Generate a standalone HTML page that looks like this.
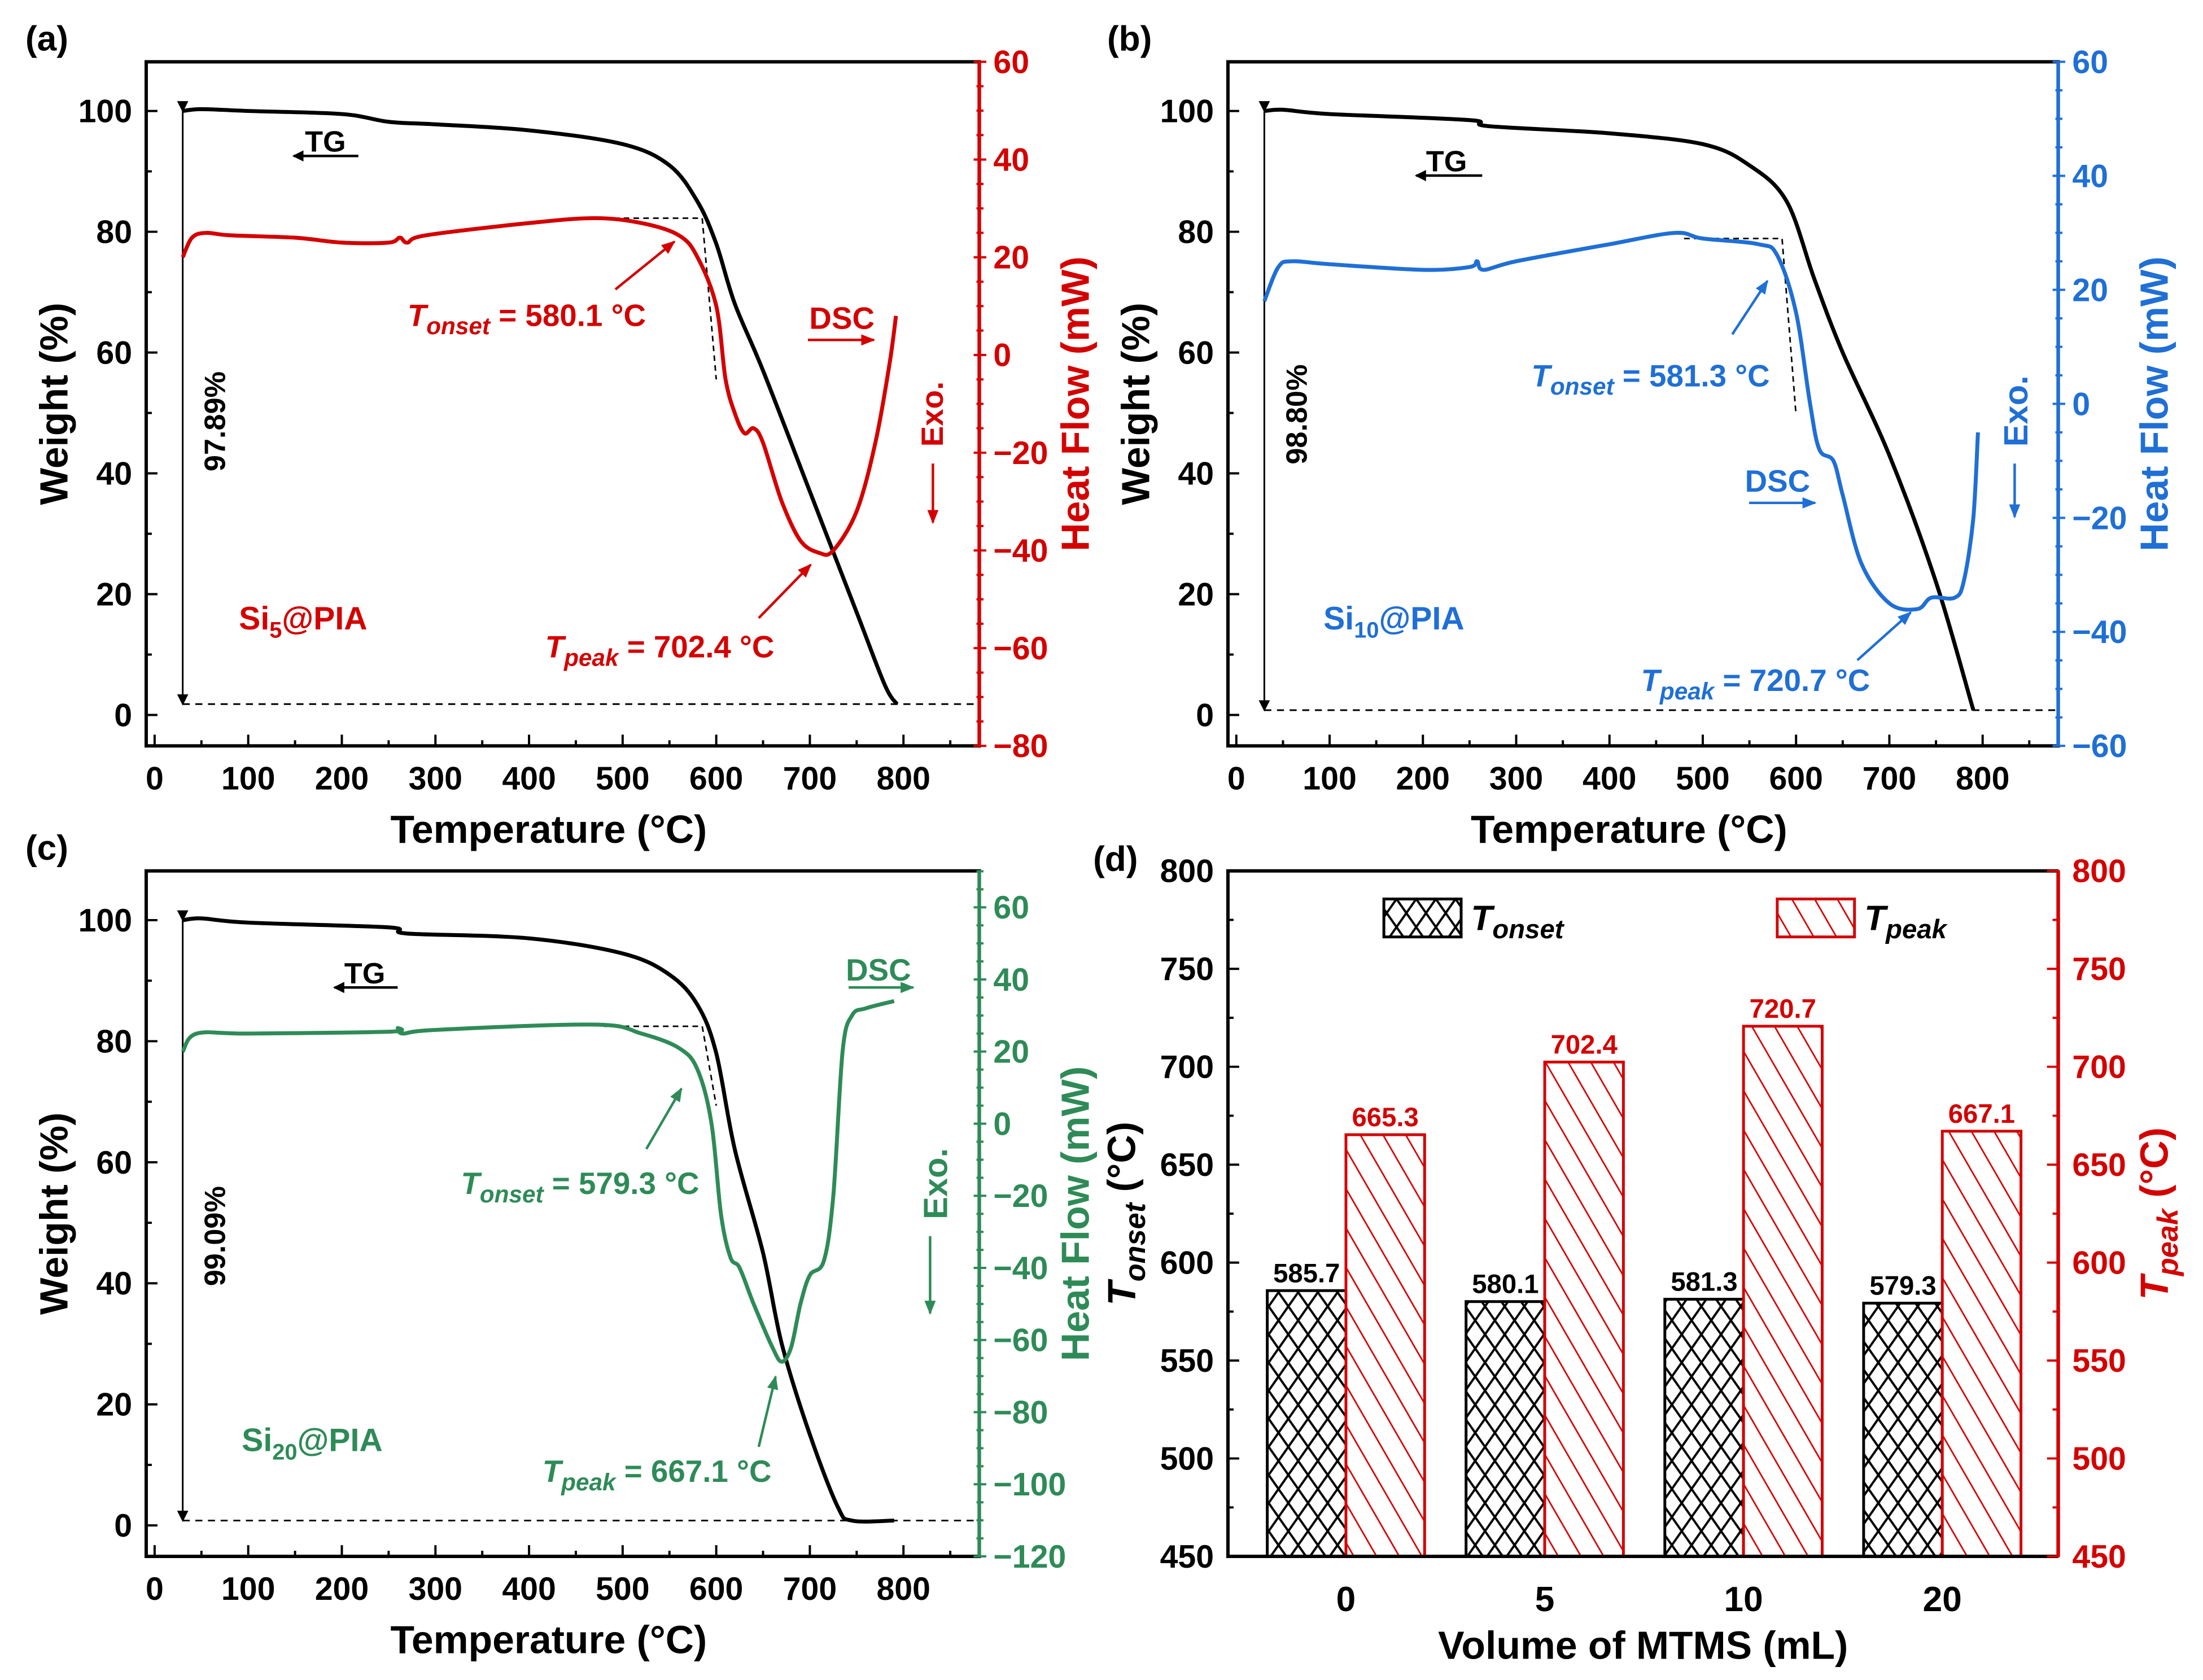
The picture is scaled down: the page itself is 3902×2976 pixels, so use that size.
<!DOCTYPE html>
<html><head><meta charset="utf-8">
<style>
html,body{margin:0;padding:0;background:#fff;}
svg{display:block;font-family:"Liberation Sans",Arial,sans-serif;font-weight:bold;}
</style></head>
<body>
<svg id="fig" xmlns="http://www.w3.org/2000/svg" width="3902" height="2976" viewBox="0 0 1568 1196">
<defs>
<pattern id="xhatch" patternUnits="userSpaceOnUse" width="14" height="20">
<rect width="14" height="20" fill="#fff"/>
<path d="M0,0 L14,20 M14,0 L0,20 M-7,10 L0,20 M7,-10 L14,0" stroke="#000" stroke-width="1.6"/>
</pattern>
<pattern id="dhatch" patternUnits="userSpaceOnUse" width="14" height="14" patternTransform="rotate(-30)">
<rect width="14" height="14" fill="#fff"/>
<line x1="0" y1="0" x2="0" y2="14" stroke="#d40000" stroke-width="2.2"/>
</pattern>
<marker id="ahK" markerWidth="8" markerHeight="8" refX="7" refY="4" orient="auto" markerUnits="userSpaceOnUse"><path d="M0,0 L8,4 L0,8 z" fill="#000"/></marker>
<marker id="ahR" markerWidth="10" markerHeight="8" refX="9" refY="4" orient="auto" markerUnits="userSpaceOnUse"><path d="M0,0 L10,4 L0,8 z" fill="#d40000"/></marker>
<marker id="ahB" markerWidth="10" markerHeight="8" refX="9" refY="4" orient="auto" markerUnits="userSpaceOnUse"><path d="M0,0 L10,4 L0,8 z" fill="#1f6fd6"/></marker>
<marker id="ahG" markerWidth="10" markerHeight="8" refX="9" refY="4" orient="auto" markerUnits="userSpaceOnUse"><path d="M0,0 L10,4 L0,8 z" fill="#2e8b57"/></marker>
</defs>
</svg>
<script>
// ---- data ----
const tgA_T = [30,50,100,200,250,300,400,500,550,580,600,620,650,700,750,780,793];
const tgA_W = [100,100.3,100,99.5,98.2,97.8,96.8,94.5,91,85,78,68,57,37,17,5,1.8];
const dscA_T = [30,40,55,80,150,200,250,262,270,290,400,470,520,560,580,600,610,620,630,640,650,670,690,710,725,750,770,785,792];
const dscA_H = [20,24,25,24.5,24,23,23,24,23,24.5,27,28,27,24.5,20,10,-5,-12,-16,-15,-18,-30,-38,-40.5,-40,-32,-18,-2,8];
const tgB_T = [30,50,100,250,270,400,500,550,590,620,650,700,750,790];
const tgB_W = [100,100.2,99.5,98.5,97.5,96.3,94.5,91,85,72,60,43,22,0.8];
const dscB_T = [30,45,60,100,200,250,258,265,300,400,470,500,560,580,600,615,625,640,650,670,700,730,745,770,780,790,795];
const dscB_H = [18,24,25,24.5,23.5,24,25,23.5,25,28,30,29,28,26,16,0,-8,-10,-16,-28,-35,-36,-34,-34,-31,-20,-5];
const tgC_T = [30,50,100,250,270,400,500,550,580,600,620,650,670,700,730,745,790];
const tgC_W = [100,100.3,99.6,98.8,97.8,97,94.5,91,86,78,62,45,30,15,3,0.8,0.8];
const dscC_T = [30,45,100,250,260,265,300,470,520,560,580,595,605,615,625,640,660,670,680,690,700,715,725,735,745,760,790];
const dscC_H = [20,25,25,25.5,26.5,25,26,27.5,25,21,15,0,-25,-37,-40,-50,-62,-66,-62,-50,-42,-38,-20,20,30,32,34];
const barCats = ["0","5","10","20"];
const onsetVals = [585.7,580.1,581.3,579.3];
const peakVals = [665.3,702.4,720.7,667.1];
const xTicks = [0,100,200,300,400,500,600,700,800];
const wTicks = [0,20,40,60,80,100];
const hTicksA = [60,40,20,0,-20,-40,-60,-80];
const hTicksB = [60,40,20,0,-20,-40,-60];
const hTicksC = [60,40,20,0,-20,-40,-60,-80,-100,-120];
const dTicks = [450,500,550,600,650,700,750,800];

const NS="http://www.w3.org/2000/svg";
const svg=document.getElementById('fig');
function mk(tag,attrs,parent){const e=document.createElementNS(NS,tag);for(const k in attrs)e.setAttribute(k,attrs[k]);(parent||svg).appendChild(e);return e;}
function lin(d0,d1,r0,r1){return v=>r0+(v-d0)*(r1-r0)/(d1-d0);}
function fmt(v){return v<0?'\u2212'+Math.abs(v):String(v);}
function smooth(pts){
  let d='M'+pts[0][0].toFixed(1)+','+pts[0][1].toFixed(1);
  for(let i=0;i<pts.length-1;i++){
    const p0=pts[Math.max(0,i-1)],p1=pts[i],p2=pts[i+1],p3=pts[Math.min(pts.length-1,i+2)];
    const c1=[p1[0]+(p2[0]-p0[0])/6,p1[1]+(p2[1]-p0[1])/6];
    const c2=[p2[0]-(p3[0]-p1[0])/6,p2[1]-(p3[1]-p1[1])/6];
    d+=`C${c1[0].toFixed(1)},${c1[1].toFixed(1)} ${c2[0].toFixed(1)},${c2[1].toFixed(1)} ${p2[0].toFixed(1)},${p2[1].toFixed(1)}`;
  }
  return d;
}

function panel(cfg){
  const g=mk('g',{});
  
  
  const X=lin(-9,881,cfg.x0,cfg.x1), Y=lin(-5.12,108.14,cfg.y1,cfg.y0), H=lin(cfg.hmin,cfg.hmax,cfg.y1,cfg.y0);
  const c=cfg.color;
  const fr=mk('rect',{x:cfg.x0,y:cfg.y0,width:cfg.x1-cfg.x0,height:cfg.y1-cfg.y0,fill:'none',stroke:'#000','stroke-width':2.4},g);
  
  
  const ra=mk('line',{x1:cfg.x1,y1:cfg.y0,x2:cfg.x1,y2:cfg.y1,stroke:c,'stroke-width':2.6},g);
  
  
  for(let v=0;v<=850;v+=50){const x=X(v),L=v%100?4:8;mk('line',{x1:x,y1:cfg.y1,x2:x,y2:cfg.y1-L,stroke:'#000','stroke-width':1.6},g);}
  xTicks.forEach(v=>{const t=mk('text',{x:X(v),y:cfg.y1+31,'text-anchor':'middle','font-size':23},g);t.textContent=v;
    
    });
  for(let v=0;v<=100;v+=10){const y=Y(v),L=v%20?4:8;mk('line',{x1:cfg.x0,y1:y,x2:cfg.x0+L,y2:y,stroke:'#000','stroke-width':1.6},g);}
  wTicks.forEach(v=>{const t=mk('text',{x:cfg.x0-10,y:Y(v)+8,'text-anchor':'end','font-size':23},g);t.textContent=v;
    
    });
  for(let v=cfg.hmin;v<=cfg.hmax;v+=5){const y=H(v),L=v%20?4:8;mk('line',{x1:cfg.x1-L/2,y1:y,x2:cfg.x1+L/2+1,y2:y,stroke:c,'stroke-width':1.6},g);}
  cfg.hTicks.forEach(v=>{const t=mk('text',{x:cfg.x1+10,y:H(v)+8,'text-anchor':'start','font-size':23,fill:c},g);t.textContent=fmt(v);
    
    });
  let t=mk('text',{x:(cfg.x0+cfg.x1)/2-10,y:cfg.y1+69,'text-anchor':'middle','font-size':28},g);t.textContent='Temperature (°C)';
  
  
  t=mk('text',{x:0,y:0,'text-anchor':'middle','font-size':28,transform:`translate(${cfg.x0-56},${(cfg.y0+cfg.y1)/2}) rotate(-90)`},g);t.textContent='Weight (%)';
  
  
  t=mk('text',{x:0,y:0,'text-anchor':'middle','font-size':28,fill:c,transform:`translate(${cfg.x1+78},${(cfg.y0+cfg.y1)/2}) rotate(-90)`},g);t.textContent='Heat Flow (mW)';
  
  
  t=mk('text',{x:cfg.x0-86,y:cfg.y0-8,'font-size':25},g);t.textContent=cfg.letter;
  
  
  const bl=mk('line',{x1:X(30),y1:Y(cfg.base),x2:cfg.x1,y2:Y(cfg.base),stroke:'#000','stroke-width':1.2,'stroke-dasharray':'5,4'},g);
  
  
  const da=mk('line',{x1:X(30),y1:Y(100),x2:X(30),y2:Y(cfg.base),stroke:'#000','stroke-width':1.2,'marker-start':'url(#ahK)','marker-end':'url(#ahK)'},g);
  
  
  t=mk('text',{x:0,y:0,'text-anchor':'middle','font-size':21,transform:`translate(${cfg.x0+56},${cfg.pctY}) rotate(-90)`},g);t.textContent=cfg.pct;
  
  
  const on=mk('polyline',{points:`${X(480)},${H(cfg.onH)} ${X(585)},${H(cfg.onH)} ${X(600)},${H(cfg.onH2)}`,fill:'none',stroke:'#000','stroke-width':1.1,'stroke-dasharray':'4,3'},g);
  
  
  const tg=mk('path',{d:smooth(cfg.tgT.map((v,i)=>[X(v),Y(cfg.tgW[i])])),fill:'none',stroke:'#000','stroke-width':2.8,'stroke-linejoin':'round'},g);
  
  
  const ds=mk('path',{d:smooth(cfg.dT.map((v,i)=>[X(v),H(cfg.dH[i])])),fill:'none',stroke:c,'stroke-width':2.8,'stroke-linejoin':'round'},g);
  
  
  cfg.arrows.forEach(a=>{const l=mk('line',{x1:a[0],y1:a[1],x2:a[2],y2:a[3],stroke:a[4]||c,'stroke-width':1.8,'marker-end':a[4]?'url(#ahK)':`url(#${cfg.mk})`},g);
    
    });
  cfg.texts.forEach(s=>{const tx=mk('text',{x:s[0],y:s[1],'font-size':s[3]||22,fill:s[4]||c},g);
    tx.innerHTML=s[2];
    
    
    if(s[6]) tx.setAttribute('transform',s[6]);});
}

panel({name:'panel-a',letter:'(a)',x0:104,x1:697,y0:44,y1:531,hmin:-80,hmax:60,hTicks:hTicksA,color:'#d40000',mk:'ahR',
  base:1.8,pct:'97.89%',pctY:300,onH:28,onH2:-5,tgT:tgA_T,tgW:tgA_W,dT:dscA_T,dH:dscA_H,
  arrows:[[255,111,209,111,'#000'],[438,206,480,172],[575,242,622,242],[664,330,664,372],[540,440,577,402]],
  texts:[[217,108,'TG',21,'#000','tg-label'],[290,232,'<tspan font-style="italic">T</tspan><tspan font-style="italic" font-size="17" dy="6">onset</tspan><tspan dy="-6"> = 580.1 °C</tspan>'],
    [576,234,'DSC'],[170,448,'Si<tspan font-size="16" dy="6">5</tspan><tspan dy="-6">@PIA</tspan>',23,null,'sample-label'],
    [388,468,'<tspan font-style="italic">T</tspan><tspan font-style="italic" font-size="17" dy="6">peak</tspan><tspan dy="-6"> = 702.4 °C</tspan>'],
    [0,0,'Exo.',22,null,'exo-label','translate(671,318) rotate(-90)']]});

panel({name:'panel-b',letter:'(b)',x0:874,x1:1465,y0:44,y1:531,hmin:-60,hmax:60,hTicks:hTicksB,color:'#1f6fd6',mk:'ahB',
  base:0.8,pct:'98.80%',pctY:295,onH:29,onH2:-2,tgT:tgB_T,tgW:tgB_W,dT:dscB_T,dH:dscB_H,
  arrows:[[1055,125,1008,125,'#000'],[1233,238,1258,200],[1245,358,1292,358],[1434,330,1434,368],[1322,470,1360,436]],
  texts:[[1015,122,'TG',21,'#000','tg-label'],[1090,275,'<tspan font-style="italic">T</tspan><tspan font-style="italic" font-size="17" dy="6">onset</tspan><tspan dy="-6"> = 581.3 °C</tspan>'],
    [1242,350,'DSC'],[942,448,'Si<tspan font-size="16" dy="6">10</tspan><tspan dy="-6">@PIA</tspan>',23,null,'sample-label'],
    [1168,492,'<tspan font-style="italic">T</tspan><tspan font-style="italic" font-size="17" dy="6">peak</tspan><tspan dy="-6"> = 720.7 °C</tspan>'],
    [0,0,'Exo.',24,null,'exo-label','translate(1443,318) rotate(-90)']]});

panel({name:'panel-c',letter:'(c)',x0:104,x1:697,y0:620,y1:1108,hmin:-120,hmax:70.1,hTicks:hTicksC,color:'#2e8b57',mk:'ahG',
  base:0.8,pct:'99.09%',pctY:880,onH:27,onH2:5,tgT:tgC_T,tgW:tgC_W,dT:dscC_T,dH:dscC_H,
  arrows:[[283,703,238,703,'#000'],[460,818,485,775],[604,703,650,703],[662,880,662,935],[540,1030,552,980]],
  texts:[[245,700,'TG',21,'#000','tg-label'],[328,850,'<tspan font-style="italic">T</tspan><tspan font-style="italic" font-size="17" dy="6">onset</tspan><tspan dy="-6"> = 579.3 °C</tspan>'],
    [602,698,'DSC'],[172,1033,'Si<tspan font-size="16" dy="6">20</tspan><tspan dy="-6">@PIA</tspan>',23,null,'sample-label'],
    [386,1055,'<tspan font-style="italic">T</tspan><tspan font-style="italic" font-size="17" dy="6">peak</tspan><tspan dy="-6"> = 667.1 °C</tspan>'],
    [0,0,'Exo.',24,null,'exo-label','translate(674,868) rotate(-90)']]});

// ---- panel d ----
(function(){
  const x0=874,x1=1465,y0=620,y1=1108;
  const g=mk('g',{});
  
  
  const Y=lin(450,800,y1,y0);
  const CX=lin(0,3,958,1382.5);
  const bw=56;
  barCats.forEach((c,i)=>{
    const cx=CX(i);
    const b1=mk('rect',{x:cx-bw,y:Y(onsetVals[i]),width:bw,height:y1-Y(onsetVals[i]),fill:'url(#xhatch)',stroke:'#000','stroke-width':2},g);
    
    
    const b2=mk('rect',{x:cx,y:Y(peakVals[i]),width:bw,height:y1-Y(peakVals[i]),fill:'url(#dhatch)',stroke:'#d40000','stroke-width':2},g);
    
    
    let t=mk('text',{x:cx-bw/2,y:Y(onsetVals[i])-6,'text-anchor':'middle','font-size':19},g);t.textContent=onsetVals[i].toFixed(1);
    
    
    t=mk('text',{x:cx+bw/2,y:Y(peakVals[i])-6,'text-anchor':'middle','font-size':19,fill:'#d40000'},g);t.textContent=peakVals[i].toFixed(1);
    
    
    t=mk('text',{x:cx,y:y1+39,'text-anchor':'middle','font-size':25},g);t.textContent=c;
    
    
  });
  const fr=mk('path',{d:`M${x1},${y0} L${x0},${y0} L${x0},${y1} L${x1},${y1}`,fill:'none',stroke:'#000','stroke-width':2.4},g);
  
  
  const ra=mk('line',{x1:x1,y1:y0,x2:x1,y2:y1,stroke:'#d40000','stroke-width':2.6},g);
  
  
  for(let v=450;v<=800;v+=25){const y=Y(v),L=v%50?4:8;
    mk('line',{x1:x0,y1:y,x2:x0+L,y2:y,stroke:'#000','stroke-width':1.6},g);
    mk('line',{x1:x1-L,y1:y,x2:x1+1,y2:y,stroke:'#d40000','stroke-width':1.6},g);}
  dTicks.forEach(v=>{
    let t=mk('text',{x:x0-10,y:Y(v)+8,'text-anchor':'end','font-size':23},g);t.textContent=v;
    
    
    t=mk('text',{x:x1+10,y:Y(v)+8,'text-anchor':'start','font-size':23,fill:'#d40000'},g);t.textContent=v;
    
    
  });
  let t=mk('text',{x:(x0+x1)/2,y:y1+73,'text-anchor':'middle','font-size':28},g);t.textContent='Volume of MTMS (mL)';
  
  
  t=mk('text',{x:0,y:0,'text-anchor':'middle','font-size':28,transform:`translate(${x0-66},${(y0+y1)/2}) rotate(-90)`},g);
  t.innerHTML='<tspan font-style="italic">T</tspan><tspan font-style="italic" font-size="21" dy="7">onset</tspan><tspan dy="-7"> (°C)</tspan>';
  
  
  t=mk('text',{x:0,y:0,'text-anchor':'middle','font-size':28,fill:'#d40000',transform:`translate(${x1+78},${(y0+y1)/2}) rotate(-90)`},g);
  t.innerHTML='<tspan font-style="italic">T</tspan><tspan font-style="italic" font-size="21" dy="7">peak</tspan><tspan dy="-7"> (°C)</tspan>';
  
  
  t=mk('text',{x:778,y:620,'font-size':25},g);t.textContent='(d)';
  
  
  let r=mk('rect',{x:985,y:640,width:55,height:27,fill:'url(#xhatch)',stroke:'#000','stroke-width':2},g);
  
  
  t=mk('text',{x:1047,y:662,'font-size':25,'font-style':'italic'},g);t.innerHTML='T<tspan font-size="19" dy="6">onset</tspan>';
  
  
  r=mk('rect',{x:1265,y:640,width:55,height:27,fill:'url(#dhatch)',stroke:'#d40000','stroke-width':2},g);
  
  
  t=mk('text',{x:1327,y:662,'font-size':25,'font-style':'italic'},g);t.innerHTML='T<tspan font-size="19" dy="6">peak</tspan>';
  
  
})();
</script>
</body></html>
